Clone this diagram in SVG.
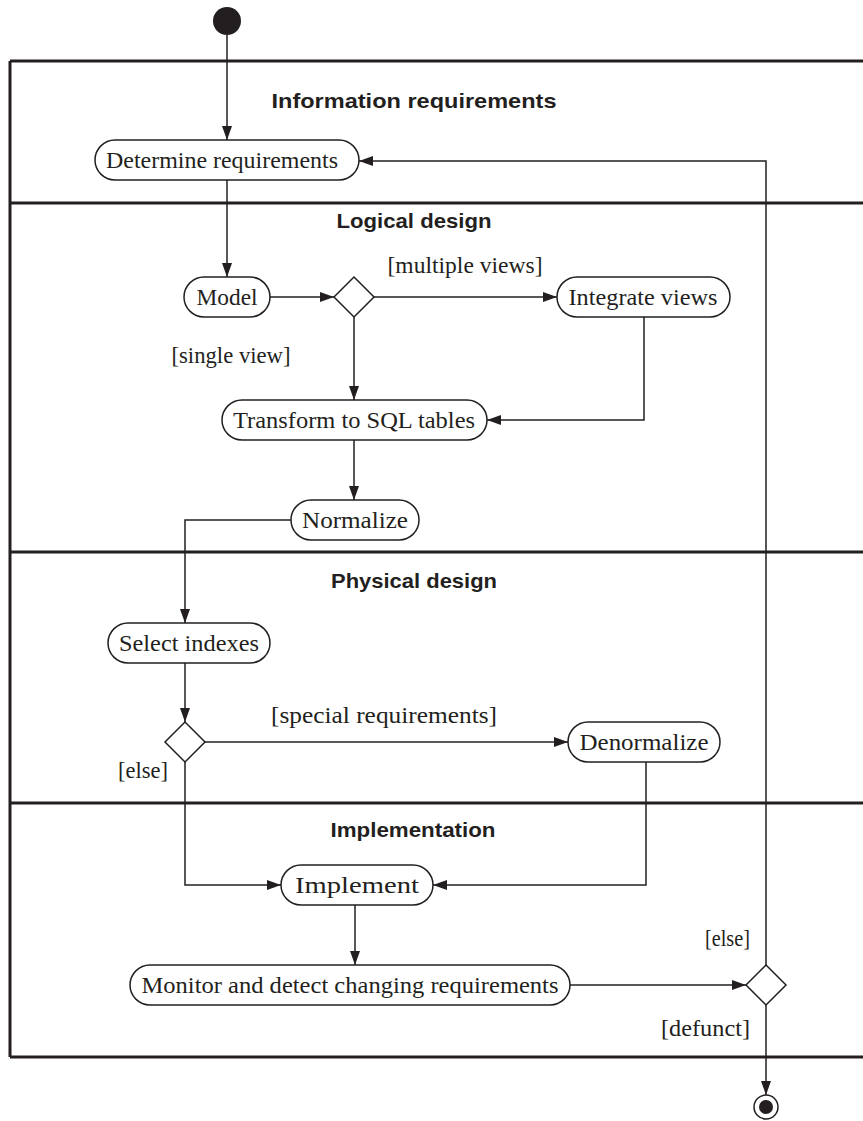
<svg xmlns="http://www.w3.org/2000/svg" width="863" height="1121" viewBox="0 0 863 1121">
<style>
.frame{stroke:#231f20;stroke-width:3;fill:none}
.node{fill:#fff;stroke:#231f20;stroke-width:1.5}
.dia{fill:#fff;stroke:#231f20;stroke-width:1.5}
.con{fill:none;stroke:#231f20;stroke-width:1.5}
.t{font-family:"Liberation Serif",serif;font-size:23px;fill:#231f20;text-anchor:middle}
.lbl{font-family:"Liberation Serif",serif;font-size:23px;fill:#231f20}
.h{font-family:"Liberation Sans",Arial,sans-serif;font-size:21px;font-weight:bold;fill:#231f20;text-anchor:middle}
</style>
<defs>
<marker id="arr" markerWidth="14" markerHeight="10" refX="14" refY="5" orient="auto" markerUnits="userSpaceOnUse"><path d="M0,0 L14,5 L0,10 z" fill="#231f20"/></marker>
</defs>
<rect width="863" height="1121" fill="#fff"/>
<g id="lanes">
<path class="frame" d="M10,61 V1057 M10,61 H863 M10,203 H863 M10,552 H863 M10,803 H863 M10,1057 H863"/>
<text class="h" x="414" y="108" textLength="285" lengthAdjust="spacingAndGlyphs">Information requirements</text>
<text class="h" x="414" y="228" textLength="155" lengthAdjust="spacingAndGlyphs">Logical design</text>
<text class="h" x="414" y="588" textLength="166" lengthAdjust="spacingAndGlyphs">Physical design</text>
<text class="h" x="413" y="837" textLength="165" lengthAdjust="spacingAndGlyphs">Implementation</text>
</g>
<g id="connectors">
<path class="con" d="M227,35 V140" marker-end="url(#arr)"/>
<path class="con" d="M227,180 V277" marker-end="url(#arr)"/>
<path class="con" d="M270,297 H334" marker-end="url(#arr)"/>
<path class="con" d="M374,297 H557" marker-end="url(#arr)"/>
<path class="con" d="M644,317 V420 H487" marker-end="url(#arr)"/>
<path class="con" d="M354,317 V400" marker-end="url(#arr)"/>
<path class="con" d="M354,440 V500" marker-end="url(#arr)"/>
<path class="con" d="M291,520 H185 V623" marker-end="url(#arr)"/>
<path class="con" d="M185,663 V722" marker-end="url(#arr)"/>
<path class="con" d="M205,742 H568" marker-end="url(#arr)"/>
<path class="con" d="M185,762 V885 H281" marker-end="url(#arr)"/>
<path class="con" d="M646,762 V885 H433" marker-end="url(#arr)"/>
<path class="con" d="M355,905 V965" marker-end="url(#arr)"/>
<path class="con" d="M570,985 H746" marker-end="url(#arr)"/>
<path class="con" d="M766,965 V161 H359" marker-end="url(#arr)"/>
<path class="con" d="M766,1005 V1095" marker-end="url(#arr)"/>
<text class="lbl" x="465" y="273" text-anchor="middle" textLength="155" lengthAdjust="spacingAndGlyphs">[multiple views]</text>
<text class="lbl" x="231" y="363" text-anchor="middle" textLength="119" lengthAdjust="spacingAndGlyphs">[single view]</text>
<text class="lbl" x="384" y="723" text-anchor="middle" textLength="226" lengthAdjust="spacingAndGlyphs">[special requirements]</text>
<text class="lbl" x="143" y="778" text-anchor="middle" textLength="50" lengthAdjust="spacingAndGlyphs">[else]</text>
<text class="lbl" x="750" y="946" text-anchor="end" textLength="45" lengthAdjust="spacingAndGlyphs">[else]</text>
<text class="lbl" x="750" y="1036" text-anchor="end" textLength="89" lengthAdjust="spacingAndGlyphs">[defunct]</text>
</g>
<g id="start"><circle cx="227" cy="21" r="14" fill="#231f20"/></g>
<g id="determine"><rect class="node" x="95" y="140" width="264" height="40" rx="20"/><text class="t" x="222" y="168" textLength="232" lengthAdjust="spacingAndGlyphs">Determine requirements</text></g>
<g id="model"><rect class="node" x="184" y="277" width="86" height="40" rx="20"/><text class="t" x="227" y="305" textLength="61" lengthAdjust="spacingAndGlyphs">Model</text></g>
<g id="decision1"><polygon class="dia" points="354,277 374,297 354,317 334,297"/></g>
<g id="integrate"><rect class="node" x="557" y="277" width="173" height="40" rx="20"/><text class="t" x="643" y="305" textLength="149" lengthAdjust="spacingAndGlyphs">Integrate views</text></g>
<g id="transform"><rect class="node" x="222" y="400" width="265" height="40" rx="20"/><text class="t" x="354" y="428" textLength="242" lengthAdjust="spacingAndGlyphs">Transform to SQL tables</text></g>
<g id="normalize"><rect class="node" x="291" y="500" width="128" height="40" rx="20"/><text class="t" x="355" y="528" textLength="106" lengthAdjust="spacingAndGlyphs">Normalize</text></g>
<g id="select"><rect class="node" x="108" y="623" width="162" height="40" rx="20"/><text class="t" x="189" y="651" textLength="140" lengthAdjust="spacingAndGlyphs">Select indexes</text></g>
<g id="decision2"><polygon class="dia" points="185,722 205,742 185,762 165,742"/></g>
<g id="denormalize"><rect class="node" x="568" y="722" width="152" height="40" rx="20"/><text class="t" x="644" y="750" textLength="129" lengthAdjust="spacingAndGlyphs">Denormalize</text></g>
<g id="implement"><rect class="node" x="281" y="865" width="152" height="40" rx="20"/><text class="t" x="357" y="893" textLength="124" lengthAdjust="spacingAndGlyphs">Implement</text></g>
<g id="monitor"><rect class="node" x="130" y="965" width="440" height="40" rx="20"/><text class="t" x="350" y="993" textLength="417" lengthAdjust="spacingAndGlyphs">Monitor and detect changing requirements</text></g>
<g id="decision3"><polygon class="dia" points="766,965 786,985 766,1005 746,985"/></g>
<g id="end"><circle cx="766" cy="1107" r="12" fill="#fff" stroke="#231f20" stroke-width="1.5"/><circle cx="766" cy="1107" r="7" fill="#231f20"/></g>
</svg>
